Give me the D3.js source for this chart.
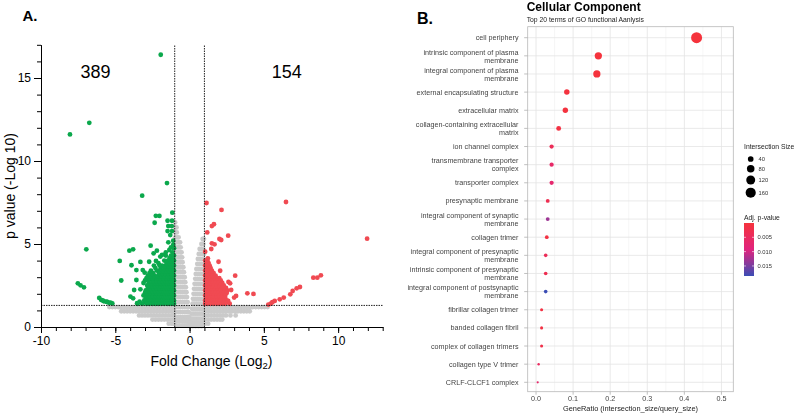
<!DOCTYPE html>
<html><head><meta charset="utf-8">
<script src="https://cdn.jsdelivr.net/npm/d3@7"></script>
<style>
body{margin:0;background:#fff}
svg{display:block}
text{font-family:"Liberation Sans",Arial,Helvetica,sans-serif}
.gs{filter:grayscale(100%)}
</style>
</head><body>
<svg id="c" width="796" height="418"></svg>
<script>
// ---------------- Panel A data (volcano plot) ----------------
const xMajorA = [-10, -5, 0, 5, 10];
const yMajorA = [0, 5, 10, 15];
const countDown = "389";
const countUp = "154";
const fcCut = [-1, 1];
const pCut = 1.3;

// non-significant points, rows: [y, [x...]]
const grayRows = [
  [6.3, [-0.97]],
  [6.0, [-0.97, -0.88]],
  [5.7, [-0.97, -0.86]],
  [5.4, [-0.97, -0.85, -0.74]],
  [5.1, [-0.97, -0.85, -0.72, -0.64]],
  [4.8, [-0.97, -0.85, -0.72, -0.6]],
  [4.5, [-0.97, -0.85, -0.72, -0.6, -0.54]],
  [4.2, [-0.97, -0.85, -0.72, -0.6, -0.5]],
  [3.9, [-0.97, -0.85, -0.72, -0.6, -0.47]],
  [3.6, [-0.97, -0.85, -0.72, -0.6, -0.48, -0.42]],
  [3.3, [-0.97, -0.85, -0.72, -0.6, -0.48, -0.38]],
  [3.0, [-0.97, -0.85, -0.72, -0.6, -0.48, -0.36, -0.33]],
  [2.7, [-0.97, -0.85, -0.72, -0.6, -0.48, -0.36, -0.29]],
  [2.4, [-0.97, -0.85, -0.72, -0.6, -0.48, -0.36, -0.25]],
  [2.1, [-0.97, -0.85, -0.72, -0.6, -0.48, -0.36, -0.24, -0.21]],
  [1.8, [-0.97, -0.85, -0.72, -0.6, -0.48, -0.36, -0.24, -0.17]],
  [1.5, [-0.97, -0.85, -0.72, -0.6, -0.48, -0.36, -0.24, -0.13]],
  [1.2, [-0.97, -0.85, -0.72, -0.6, -0.48, -0.36, -0.24, -0.12, -0.09]],
  [0.9, [-0.97, -0.85, -0.72, -0.6, -0.48, -0.36, -0.24, -0.12, -0.06]],
  [0.6, [-0.97, -0.85, -0.72, -0.6, -0.48, -0.36, -0.24, -0.12, -0.03]],
  [0.35, [-0.95, -0.8, -0.65, -0.5, -0.36, -0.22, -0.1, 0.0]],
  [0.1, [-0.9, -0.7, -0.5, -0.32, -0.16, -0.02]],
  [5.3, [0.88, 0.97]],
  [5.0, [0.8, 0.93]],
  [4.7, [0.68, 0.8, 0.93]],
  [4.4, [0.62, 0.75, 0.88, 0.97]],
  [4.1, [0.56, 0.69, 0.82, 0.95]],
  [3.8, [0.52, 0.65, 0.78, 0.91]],
  [3.5, [0.46, 0.59, 0.72, 0.85, 0.96]],
  [3.2, [0.42, 0.55, 0.68, 0.81, 0.94]],
  [2.9, [0.38, 0.51, 0.64, 0.77, 0.9]],
  [2.6, [0.34, 0.47, 0.6, 0.73, 0.86, 0.97]],
  [2.3, [0.3, 0.43, 0.56, 0.69, 0.82, 0.95]],
  [2.0, [0.27, 0.4, 0.53, 0.66, 0.79, 0.92]],
  [1.7, [0.23, 0.36, 0.49, 0.62, 0.75, 0.88, 0.97]],
  [1.4, [0.2, 0.33, 0.46, 0.59, 0.72, 0.85, 0.96]],
  [1.1, [0.17, 0.3, 0.43, 0.56, 0.69, 0.82, 0.95]],
  [0.8, [0.13, 0.26, 0.39, 0.52, 0.65, 0.78, 0.91]],
  [0.5, [0.09, 0.22, 0.35, 0.48, 0.61, 0.74, 0.87, 0.98]],
  [0.25, [0.06, 0.18, 0.31, 0.45, 0.6, 0.75, 0.9]],
  [0.05, [0.03, 0.2, 0.4, 0.6, 0.8]],
  [1.2, [-5.4, -5.2, -5.0, -4.8, -4.6, -4.4, -4.2, -4.0, -3.8, -3.6, -3.4, -3.2, -3.0, -2.8, -2.6, -2.4, -2.2, -2.0, -1.8, -1.6, -1.4, -1.2, -1.05]],
  [0.95, [-4.6, -4.4, -4.2, -4.0, -3.8, -3.6, -3.4, -3.2, -3.0, -2.8, -2.6, -2.4, -2.2, -2.0, -1.8, -1.6, -1.4, -1.2, -1.05]],
  [0.7, [-3.4, -3.2, -3.0, -2.8, -2.6, -2.4, -2.2, -2.0, -1.8, -1.6, -1.4, -1.2, -1.05]],
  [0.45, [-2.5, -2.3, -2.1, -1.9, -1.7, -1.5, -1.3, -1.1]],
  [0.2, [-1.4, -1.2, -1.05]],
  [1.2, [1.05, 1.25, 1.45, 1.65, 1.85, 2.05, 2.25, 2.45, 2.65, 2.85, 3.05, 3.25, 3.45, 3.65, 3.85, 4.05, 4.25, 4.45, 4.65, 4.85, 5.05, 5.25]],
  [0.95, [1.05, 1.25, 1.45, 1.65, 1.85, 2.05, 2.25, 2.45, 2.65, 2.85, 3.05, 3.25, 3.45, 3.65, 3.85, 4.05]],
  [0.7, [1.05, 1.25, 1.45, 1.65, 1.85, 2.05, 2.25, 2.45, 2.75, 3.1]],
  [0.45, [1.05, 1.25, 1.45, 1.65, 1.85, 2.05, 2.2]],
  [0.2, [1.05, 1.25]]
];

// down-regulated (green) points
const greenPts = [
  [-1.94, 16.4], [-6.75, 12.3], [-8.05, 11.6], [-1.52, 8.67], [-3.19, 7.91],
  [-2.27, 6.70], [-2.03, 6.69], [-1.16, 6.89], [-2.35, 6.28], [-1.48, 6.40], [-1.18, 6.40],
  [-1.43, 6.08], [-1.2, 6.08], [-1.48, 5.78], [-1.18, 5.78], [-1.3, 5.54], [-1.43, 5.1], [-1.1, 5.2],
  [-2.62, 4.9], [-3.8, 4.68], [-4.05, 4.6], [-6.95, 4.68], [-2.42, 4.44], [-1.97, 4.24], [-1.36, 4.64],
  [-1.15, 4.5], [-1.05, 4.75], [-1.1, 4.95], [-1.25, 4.8], [-1.6, 4.5], [-1.85, 4.35], [-2.2, 4.6],
  [-4.7, 3.98], [-3.91, 3.72], [-3.31, 3.92], [-2.72, 3.93], [-2.26, 3.98], [-2.03, 3.73],
  [-3.58, 3.43], [-3.15, 3.43], [-3.02, 3.27], [-4.6, 2.8], [-3.58, 2.83], [-3.73, 2.23], [-3.31, 2.27],
  [-3.98, 1.83], [-3.8, 1.73], [-3.36, 1.52], [-3.53, 1.43],
  [-7.52, 2.63], [-7.34, 2.51], [-7.11, 2.39],
  [-6.08, 1.75], [-5.95, 1.63], [-5.85, 1.6], [-5.77, 1.55], [-5.6, 1.52], [-5.54, 1.51],
  [-5.45, 1.47], [-5.32, 1.46], [-5.2, 1.42]
];
const greenRows = [
  [4.3, [-1.05, -1.25, -1.6]],
  [4.15, [-1.12, -1.35]],
  [4.0, [-1.05, -1.2, -1.45, -1.7]],
  [3.85, [-1.12, -1.3, -1.55, -2.1]],
  [3.7, [-1.05, -1.2, -1.4, -1.6, -1.85, -2.4]],
  [3.55, [-1.12, -1.28, -1.48, -1.7, -1.95, -2.3]],
  [3.4, [-1.05, -1.2, -1.35, -1.55, -1.75, -2.0, -2.2, -2.6]],
  [3.25, [-1.12, -1.28, -1.45, -1.62, -1.82, -2.05, -2.45, -2.7]],
  [3.1, [-1.05, -1.2, -1.35, -1.5, -1.7, -1.9, -2.1, -2.35, -2.55, -2.8]],
  [2.95, [-1.12, -1.28, -1.42, -1.58, -1.78, -1.95, -2.15, -2.4, -2.65, -2.9]],
  [2.8, [-1.05, -1.2, -1.35, -1.5, -1.65, -1.85, -2.05, -2.25, -2.5, -2.75, -3.0]],
  [2.65, [-1.12, -1.28, -1.42, -1.58, -1.75, -1.92, -2.12, -2.3, -2.5, -2.75, -3.1]],
  [2.5, [-1.05, -1.2, -1.35, -1.5, -1.65, -1.8, -2.0, -2.2, -2.4, -2.6, -2.85]],
  [2.35, [-1.12, -1.28, -1.42, -1.58, -1.72, -1.88, -2.05, -2.22, -2.4, -2.6, -2.8]],
  [2.2, [-1.05, -1.2, -1.35, -1.5, -1.65, -1.8, -1.95, -2.1, -2.3, -2.5, -2.7, -2.95]],
  [2.05, [-1.12, -1.28, -1.42, -1.58, -1.72, -1.88, -2.02, -2.2, -2.4, -2.6, -2.8, -3.0]],
  [1.9, [-1.05, -1.2, -1.35, -1.5, -1.65, -1.8, -1.95, -2.1, -2.3, -2.5, -2.7, -2.9, -3.1]],
  [1.75, [-1.12, -1.28, -1.42, -1.58, -1.72, -1.88, -2.02, -2.18, -2.35, -2.55, -2.75, -2.95]],
  [1.6, [-1.05, -1.2, -1.35, -1.5, -1.65, -1.8, -1.95, -2.1, -2.25, -2.45, -2.65, -2.85, -3.05]],
  [1.5, [-1.12, -1.28, -1.42, -1.6, -1.8, -2.0, -2.2, -2.4, -2.6, -2.8, -3.0]],
  [1.4, [-1.05, -1.2, -1.35, -1.5, -1.7, -1.9, -2.1, -2.3, -2.5, -2.7, -2.9, -3.2, -3.5]]
];

// up-regulated (red) points
const redPts = [
  [1.14, 7.47], [6.49, 7.53], [2.15, 7.05], [11.95, 5.32], [1.64, 6.19], [1.5, 6.08], [1.19, 5.7],
  [2.6, 5.5], [2.01, 5.3], [1.5, 5.04], [1.68, 4.98], [2.13, 5.24], [1.05, 4.54], [1.46, 4.7], [1.23, 4.14],
  [1.95, 3.93], [1.19, 3.84], [2.06, 3.39], [3.07, 3.09], [2.73, 2.63], [2.62, 2.71], [2.8, 2.23],
  [3.13, 1.87], [3.0, 1.77], [2.6, 1.57], [3.89, 2.03], [4.3, 1.99],
  [8.84, 3.11], [8.6, 2.97], [8.33, 2.97], [7.43, 2.41], [7.21, 2.33], [6.94, 2.17], [6.78, 1.97],
  [6.34, 1.77], [6.07, 1.67], [5.73, 1.57], [5.57, 1.49], [5.46, 1.40], [5.3, 1.35]
];
const redRows = [
  [4.0, [1.05, 1.2]],
  [3.85, [1.12, 1.28]],
  [3.7, [1.05, 1.2, 1.35]],
  [3.55, [1.12, 1.28, 1.42]],
  [3.4, [1.05, 1.2, 1.35, 1.5]],
  [3.25, [1.12, 1.28, 1.42, 1.62]],
  [3.1, [1.05, 1.2, 1.35, 1.55, 1.75]],
  [2.95, [1.12, 1.28, 1.42, 1.6, 1.8, 2.0]],
  [2.8, [1.05, 1.2, 1.35, 1.5, 1.7, 1.9, 2.1]],
  [2.65, [1.12, 1.28, 1.42, 1.58, 1.75, 1.95, 2.2]],
  [2.5, [1.05, 1.2, 1.35, 1.5, 1.65, 1.85, 2.05, 2.3]],
  [2.35, [1.12, 1.28, 1.42, 1.58, 1.78, 2.0, 2.2, 2.45]],
  [2.2, [1.05, 1.2, 1.35, 1.5, 1.7, 1.9, 2.1, 2.35, 2.55]],
  [2.05, [1.12, 1.28, 1.42, 1.58, 1.75, 1.95, 2.15, 2.3, 2.5]],
  [1.9, [1.05, 1.2, 1.35, 1.5, 1.65, 1.85, 2.0, 2.2, 2.4]],
  [1.75, [1.12, 1.28, 1.42, 1.6, 1.8, 2.0, 2.2, 2.4]],
  [1.6, [1.05, 1.2, 1.35, 1.5, 1.7, 1.9, 2.1, 2.3, 2.5]],
  [1.5, [1.12, 1.28, 1.45, 1.65, 1.85, 2.05, 2.3, 2.55]],
  [1.4, [1.05, 1.2, 1.4, 1.6, 1.8, 2.0, 2.2, 2.4, 2.7]]
];

// ---------------- Panel B data (GO dot plot) ----------------
const terms = [
  "cell periphery",
  "intrinsic component of plasma\nmembrane",
  "integral component of plasma\nmembrane",
  "external encapsulating structure",
  "extracellular matrix",
  "collagen-containing extracellular\nmatrix",
  "ion channel complex",
  "transmembrane transporter\ncomplex",
  "transporter complex",
  "presynaptic membrane",
  "integral component of synaptic\nmembrane",
  "collagen trimer",
  "integral component of presynaptic\nmembrane",
  "intrinsic component of presynaptic\nmembrane",
  "integral component of postsynaptic\nmembrane",
  "fibrillar collagen trimer",
  "banded collagen fibril",
  "complex of collagen trimers",
  "collagen type V trimer",
  "CRLF-CLCF1 complex"
];
const geneRatio = [0.433, 0.168, 0.164, 0.083, 0.079, 0.061, 0.042, 0.042, 0.042, 0.0315,
                   0.0315, 0.029, 0.026, 0.026, 0.026, 0.015, 0.015, 0.015, 0.007, 0.0045];
const intersectionSize = [192, 74, 73, 37, 35, 27, 19, 19, 19, 14, 14, 13, 12, 12, 12, 7, 7, 7, 3, 2];
const adjP = [0.00001, 0.0001, 0.0002, 0.0005, 0.0005, 0.001, 0.004, 0.006, 0.007, 0.003,
              0.013, 0.001, 0.004, 0.003, 0.0185, 0.001, 0.001, 0.002, 0.005, 0.0065];
const xTicksB = [0, 0.1, 0.2, 0.3, 0.4, 0.5];
const xMinorB = [0.05, 0.15, 0.25, 0.35, 0.45];
const sizeLegend = [40, 80, 120, 160];
const pLegendTicks = [0.005, 0.010, 0.015];

// ---------------- drawing ----------------
const svg = d3.select("#c");
const GREEN = "#0ba84c", RED = "#f04a52", GRAY = "#cacaca";
const R = 2.4;

// Panel A scales
const xA = d3.scaleLinear().domain([-10, 13]).range([41, 382.7]);
const yA = d3.scaleLinear().domain([0, 17]).range([327, 44.8]);
const gA = svg.append("g");

const expand = rows => rows.flatMap(([y, xs]) => xs.map(x => [x, y]));
const grayPts = expand(grayRows);
const greens = expand(greenRows).concat(greenPts);
const reds = expand(redRows).concat(redPts);

function dots(pts, col) {
  gA.append("g").selectAll("circle").data(pts).join("circle")
    .attr("cx", d => xA(d[0])).attr("cy", d => yA(d[1])).attr("r", R).attr("fill", col);
}
dots(grayPts, GRAY);
dots(greens, GREEN);
dots(reds, RED);

// threshold lines
gA.selectAll("line.v").data(fcCut).join("line").attr("class", "v")
  .attr("x1", d => xA(d)).attr("x2", d => xA(d)).attr("y1", yA(0)).attr("y2", yA(17))
  .attr("stroke", "#222").attr("stroke-width", 1).attr("stroke-dasharray", "1.5,1");
gA.append("line").attr("x1", xA(-10)).attr("x2", xA(13)).attr("y1", yA(pCut)).attr("y2", yA(pCut))
  .attr("stroke", "#222").attr("stroke-width", 1).attr("stroke-dasharray", "1.5,1");

// axes
function styleAxis(g) {
  g.selectAll("path,line").attr("stroke", "#000").attr("stroke-width", 1);
  g.selectAll("text").attr("fill", "#000").style("font-size", "12px")
    .style("font-family", '"Liberation Sans",Arial,sans-serif');
}
gA.append("g").attr("transform", `translate(0,${yA(0)})`)
  .call(d3.axisBottom(xA).tickValues(d3.range(-10, 14)).tickSize(4).tickSizeOuter(0).tickFormat(""))
  .call(styleAxis);
gA.append("g").attr("transform", `translate(0,${yA(0)})`)
  .call(d3.axisBottom(xA).tickValues(xMajorA).tickSize(6).tickSizeOuter(0).tickPadding(3).tickFormat(d => String(d)))
  .call(styleAxis);
gA.append("g").attr("transform", `translate(${xA(-10)},0)`)
  .call(d3.axisLeft(yA).tickValues(d3.range(0, 18)).tickSize(4).tickSizeOuter(0).tickFormat(""))
  .call(styleAxis);
gA.append("g").attr("transform", `translate(${xA(-10)},0)`)
  .call(d3.axisLeft(yA).tickValues(yMajorA).tickSize(7).tickSizeOuter(0).tickPadding(3).tickFormat(d => String(d)))
  .call(styleAxis);

// texts
gA.append("text").attr("x", 95.5).attr("y", 78.3).attr("text-anchor", "middle")
  .style("font-size", "18px").text(countDown);
gA.append("text").attr("x", 286.7).attr("y", 78.3).attr("text-anchor", "middle")
  .style("font-size", "18px").text(countUp);
const xl = gA.append("text").attr("x", 211.5).attr("y", 365.5).attr("text-anchor", "middle")
  .style("font-size", "14px");
xl.append("tspan").text("Fold Change (Log");
xl.append("tspan").attr("dy", 3).style("font-size", "9.5px").text("2");
xl.append("tspan").attr("dy", -3).text(")");
gA.append("text").attr("transform", "translate(14.5,186) rotate(-90)").attr("text-anchor", "middle")
  .style("font-size", "14px").text("p value (-Log 10)");
svg.append("text").attr("x", 22.5).attr("y", 21).style("font-size", "15px").style("font-weight", "bold").text("A.");

// ---------------- Panel B ----------------
const gB = svg.append("g");
const L = 527.7, Rt = 733.3, T = 26.7, B = 391.7;
const xB = d3.scaleLinear().domain([-0.0225, 0.532]).range([L, Rt]);
const yB = d3.scalePoint().domain(terms).range([37.7, 382.3]);
const rB = d3.scalePow().exponent(0.5).domain([2, 192]).range([1.1, 5.5]);
const pMin = d3.min(adjP), pMax = d3.max(adjP);
const colB = d3.scaleLinear().domain([pMin, (pMin + pMax) / 2, pMax])
  .range(["#f5333c", "#e0247e", "#3b4db5"]).interpolate(d3.interpolateRgb);

gB.append("rect").attr("x", L).attr("y", T).attr("width", Rt - L).attr("height", B - T).attr("fill", "#fff");
gB.selectAll("line.mn").data(xMinorB).join("line").attr("class", "mn")
  .attr("x1", d => xB(d)).attr("x2", d => xB(d)).attr("y1", T).attr("y2", B)
  .attr("stroke", "#f0f0f0").attr("stroke-width", 0.6);
gB.selectAll("line.mj").data(xTicksB).join("line").attr("class", "mj")
  .attr("x1", d => xB(d)).attr("x2", d => xB(d)).attr("y1", T).attr("y2", B)
  .attr("stroke", "#e3e3e3").attr("stroke-width", 0.8);
gB.selectAll("line.hy").data(terms).join("line").attr("class", "hy")
  .attr("x1", L).attr("x2", Rt).attr("y1", d => yB(d)).attr("y2", d => yB(d))
  .attr("stroke", "#e3e3e3").attr("stroke-width", 0.8);
gB.append("rect").attr("x", L).attr("y", T).attr("width", Rt - L).attr("height", B - T)
  .attr("fill", "none").attr("stroke", "#b8b8b8").attr("stroke-width", 0.8);

// ticks
gB.selectAll("line.yt").data(terms).join("line").attr("class", "yt")
  .attr("x1", L - 3.5).attr("x2", L).attr("y1", d => yB(d)).attr("y2", d => yB(d))
  .attr("stroke", "#b0b0b0").attr("stroke-width", 0.8);
gB.selectAll("line.xt").data(xTicksB).join("line").attr("class", "xt")
  .attr("x1", d => xB(d)).attr("x2", d => xB(d)).attr("y1", B).attr("y2", B + 3)
  .attr("stroke", "#b0b0b0").attr("stroke-width", 0.8);

// dots
gB.selectAll("circle.d").data(terms).join("circle").attr("class", "d")
  .attr("cx", (d, i) => xB(geneRatio[i])).attr("cy", d => yB(d))
  .attr("r", (d, i) => rB(intersectionSize[i])).attr("fill", (d, i) => colB(adjP[i]));

// text layer (grayscale antialiasing)
const gT = svg.append("g").attr("class", "gs");

// y labels
const yl = gT.selectAll("text.yl").data(terms).join("text").attr("class", "yl")
  .attr("text-anchor", "end").attr("fill", "#444").style("font-size", "7.2px");
yl.each(function (d) {
  const lines = d.split("\n");
  const t = d3.select(this);
  lines.forEach((ln, k) => {
    const off = lines.length === 1 ? 0 : (k === 0 ? -3.8 : 4.2);
    t.append("tspan").attr("x", 518.5).attr("y", yB(d) + off + 2.5).text(ln);
  });
});
// x tick labels
gT.selectAll("text.xl").data(xTicksB).join("text").attr("class", "xl")
  .attr("x", d => xB(d)).attr("y", 401.3).attr("text-anchor", "middle")
  .attr("fill", "#444").style("font-size", "7.2px").text(d => d3.format(".1f")(d));
gT.append("text").attr("x", (L + Rt) / 2).attr("y", 411).attr("text-anchor", "middle")
  .attr("fill", "#222").style("font-size", "7.4px").text("GeneRatio (intersection_size/query_size)");

// titles
gT.append("text").attr("x", 526.7).attr("y", 11).style("font-size", "12px").style("font-weight", "bold")
  .text("Cellular Component");
gT.append("text").attr("x", 526.7).attr("y", 21.5).style("font-size", "6.8px").attr("fill", "#222")
  .text("Top 20 terms of GO functional Aanlysis");
svg.append("text").attr("x", 417).attr("y", 24).style("font-size", "16px").style("font-weight", "bold").text("B.");

// legend: size
gT.append("text").attr("x", 744).attr("y", 149).style("font-size", "6.8px").attr("fill", "#222").text("Intersection Size");
const legY = [159, 168.7, 180, 192.7];
gB.selectAll("circle.ls").data(sizeLegend).join("circle").attr("class", "ls")
  .attr("cx", 750.7).attr("cy", (d, i) => legY[i]).attr("r", d => rB(d)).attr("fill", "#000");
gT.selectAll("text.ls").data(sizeLegend).join("text").attr("class", "ls")
  .attr("x", 758.5).attr("y", (d, i) => legY[i] + 2).style("font-size", "5.8px").attr("fill", "#333").text(d => d);

// legend: colour
gT.append("text").attr("x", 744).attr("y", 219.5).style("font-size", "6.8px").attr("fill", "#222").text("Adj. p-value");
const cbY = d3.scaleLinear().domain([pMin, pMax]).range([223, 276]);
const grad = svg.append("defs").append("linearGradient").attr("id", "pg")
  .attr("x1", 0).attr("x2", 0).attr("y1", 0).attr("y2", 1);
d3.range(0, 1.0001, 0.1).forEach(t => {
  grad.append("stop").attr("offset", t).attr("stop-color", colB(pMin + t * (pMax - pMin)));
});
gB.append("rect").attr("x", 744).attr("y", 223).attr("width", 10).attr("height", 53).attr("fill", "url(#pg)");
gB.selectAll("line.cbt").data(pLegendTicks).join("line").attr("class", "cbt")
  .attr("x1", 744).attr("x2", 746).attr("y1", d => cbY(d)).attr("y2", d => cbY(d)).attr("stroke", "#fff").attr("stroke-width", 0.6);
gB.selectAll("line.cbt2").data(pLegendTicks).join("line").attr("class", "cbt2")
  .attr("x1", 752).attr("x2", 754).attr("y1", d => cbY(d)).attr("y2", d => cbY(d)).attr("stroke", "#fff").attr("stroke-width", 0.6);
gT.selectAll("text.cb").data(pLegendTicks).join("text").attr("class", "cb")
  .attr("x", 757.5).attr("y", d => cbY(d) + 2).style("font-size", "5.8px").attr("fill", "#333")
  .text(d => d3.format(".3f")(d));
</script>
</body></html>
